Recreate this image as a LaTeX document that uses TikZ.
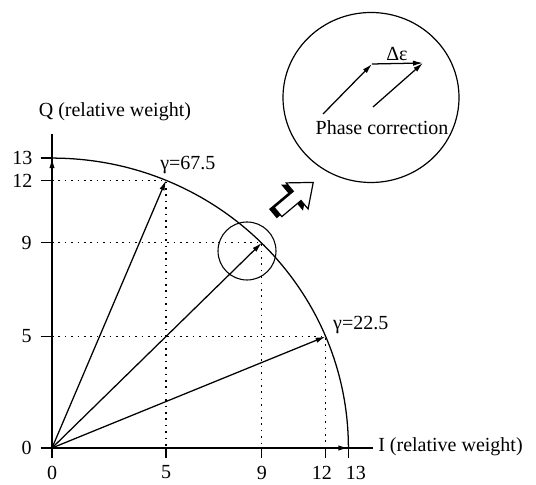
\documentclass[tikz,border=0pt]{standalone}
\usepackage{fontspec}
\setmainfont{Liberation Serif}
\usetikzlibrary{arrows.meta}
\begin{document}
\begin{tikzpicture}[x=0.75pt,y=0.75pt,
  every node/.style={inner sep=0pt,font=\fontsize{15}{18}\selectfont},
  line/.style={line width=0.95pt},
  vec/.style={line width=0.95pt,-{Latex[length=7.5pt,width=4pt]}},
  dots/.style={line width=0.9pt,dash pattern=on 1.2pt off 3.6pt},
  tick/.style={line width=0.9pt}]
\useasboundingbox (0,0) rectangle (536,485);
% ---------- data frame ----------
\begin{scope}[shift={(39pt,27.75pt)},x=17.1pt,y=16.725pt]
  \coordinate (O) at (0,0);
  \coordinate (A) at (5,12);
  \coordinate (B) at (9.2,9.2);
  \coordinate (C) at (12,5);
  \coordinate (X5) at (5,0);
  \coordinate (X9) at (9.2,0);
  \coordinate (X12) at (12,0);
  \coordinate (X13) at (13,0);
  \coordinate (Y5) at (0,5);
  \coordinate (Y9) at (0,9.2);
  \coordinate (Y12) at (0,12);
  \coordinate (Y13) at (0,13);
  \coordinate (XS) at (-0.45,0);
  \coordinate (XE) at (14.1,0);
  \coordinate (YS) at (0,-0.3);
  \coordinate (YE) at (0,14.1);
  % axes
  \draw[line] (XS) -- (XE);
  \draw[line] (YS) -- (YE);
  % dotted guides
  \draw[dots] (Y12) -- (A) -- (X5);
  \draw[dots] (Y9) -- (B) -- (X9);
  \draw[dots] (Y5) -- (C) -- (X12);
  % arc
  \draw[line] (X13) arc[start angle=0,end angle=90,radius=13];
  % vectors
  \draw[vec] (O) -- (X13);
  \draw[vec] (O) -- (Y13);
  \draw[vec] (O) -- (A);
  \draw[vec] (O) -- (B);
  \draw[vec] (O) -- (C);
  % x ticks
  \foreach \v in {0,5,9.2,12,13} \draw[tick] (\v,0) -- (\v,-0.45);
  % y ticks
  \foreach \v in {0,5,9.2,12,13} \draw[tick] (-0.5,\v) -- (0,\v);
  % x labels
  \node (lx0) at (0,-1.1) {0};
  \node (lx5) at (5,-1.1) {5};
  \node (lx9) at (9.2,-1.1) {9};
  \node (lx12) at (11.84,-1.1) {12};
  \node (lx13) at (13.33,-1.1) {13};
  % y labels
  \node[anchor=east] (ly0) at (-0.88,0) {0};
  \node[anchor=east] (ly5) at (-0.88,5) {5};
  \node[anchor=east] (ly9) at (-0.88,9.2) {9};
  \node[anchor=east] (ly12) at (-0.85,12) {12};
  \node[anchor=east] (ly13) at (-0.85,13) {13};
  % axis titles
  \node (qlab) at (2.76,15.07) {Q (relative weight)};
  \node[anchor=west] (ilab) at (14.3,0.05) {I (relative weight)};
  % gamma labels
  \node[anchor=west] (g1) at (4.74,12.69) {γ=67.5};
  \node[anchor=west] (g2) at (12.32,5.52) {γ=22.5};
\end{scope}
% ---------- zoom circle ----------
\draw[line width=0.8pt] (247,234) circle[radius=29];
% block arrow with 3D extrusion
\begin{scope}[shift={(278,273)},rotate=40]
  \begin{scope}[shift={(-5,2)}]
    \fill[black] (0,-6) -- (25,-6) -- (25,-17) -- (46,0) -- (25,17) -- (25,6) -- (0,6) -- cycle;
  \end{scope}
  \draw[line width=0.9pt,fill=white] (0,-6) -- (25,-6) -- (25,-17) -- (46,0) -- (25,17) -- (25,6) -- (0,6) -- cycle;
\end{scope}
% ---------- big inset circle ----------
\draw[line width=0.9pt] (371,387.5) ellipse[x radius=88,y radius=85];
\coordinate (p1) at (323,371);
\coordinate (p2) at (372,421);
\coordinate (p3) at (373,378);
\coordinate (p4) at (423,422);
\draw[vec] (p1) -- (p2);
\draw[vec] (p3) -- (p4);
\draw[vec] (p2) -- (p4);
\node (de) at (397,431) {Δε};
\node (pc) at (382,357) {Phase correction};
\end{tikzpicture}
\end{document}
